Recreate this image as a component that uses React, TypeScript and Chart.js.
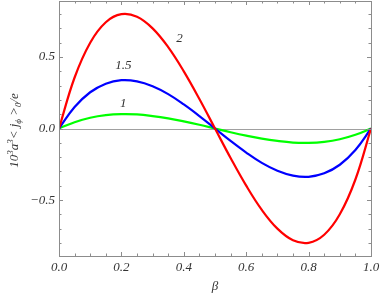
import React, { useEffect, useRef } from "react";
import { Chart, registerables } from "chart.js";
Chart.register(...registerables);

const betas = [0, 0.05, 0.1, 0.15, 0.2, 0.25, 0.3, 0.35, 0.4, 0.45, 0.5, 0.55, 0.6, 0.65, 0.7, 0.75, 0.8, 0.85, 0.9, 0.95, 1];
const green = [0, 0.044, 0.075, 0.093, 0.1, 0.098, 0.087, 0.071, 0.05, 0.026, 0, -0.026, -0.05, -0.071, -0.087, -0.098, -0.1, -0.093, -0.075, -0.044, 0];
const blue = [0, 0.15, 0.253, 0.313, 0.337, 0.329, 0.295, 0.24, 0.168, 0.087, 0, -0.087, -0.168, -0.24, -0.295, -0.329, -0.337, -0.313, -0.253, -0.15, 0];
const red = [0, 0.356, 0.599, 0.742, 0.798, 0.78, 0.699, 0.568, 0.399, 0.206, 0, -0.206, -0.399, -0.568, -0.699, -0.78, -0.798, -0.742, -0.599, -0.356, 0];

const curveLabels = ["2", "1.5", "1"];
const curveLabelX = [0.386, 0.206, 0.206];
const curveLabelY = [0.63, 0.44, 0.175];

const xMajor = [0, 0.2, 0.4, 0.6, 0.8, 1];
const xMinor = [0.05, 0.1, 0.15, 0.25, 0.3, 0.35, 0.45, 0.5, 0.55, 0.65, 0.7, 0.75, 0.85, 0.9, 0.95];
const yMajor = [-0.5, 0, 0.5];
const yMinor = [-0.8, -0.7, -0.6, -0.4, -0.3, -0.2, -0.1, 0.1, 0.2, 0.3, 0.4, 0.6, 0.7, 0.8];

const xTitle = "β";
// [text, kind] kind: n = normal, u = superscript, d = subscript
const yTitleParts: [string, string][] = [
  ["10", "n"], ["3", "u"], ["a", "n"], ["3", "u"], ["< j", "n"], ["ϕ", "d"], [" >", "n"], ["0", "d"], ["/e", "n"],
];

const FONT = "'Liberation Serif', 'Times New Roman', serif";
const TXT = "#333333";

const framePlugin = {
  id: "framePlugin",
  beforeDatasetsDraw(chart: any) {
    const { ctx, chartArea: a, scales } = chart;
    const y0 = scales.y.getPixelForValue(0);
    ctx.save();
    ctx.strokeStyle = "#a0a0a0";
    ctx.lineWidth = 1;
    ctx.beginPath();
    ctx.moveTo(a.left, Math.round(y0) + 0.5);
    ctx.lineTo(a.right, Math.round(y0) + 0.5);
    ctx.stroke();
    ctx.restore();
  },
  afterDraw(chart: any) {
    const { ctx, chartArea: a, scales } = chart;
    ctx.save();
    ctx.strokeStyle = "#8c8c8c";
    ctx.lineWidth = 1;
    ctx.strokeRect(Math.round(a.left) + 0.5, Math.round(a.top) + 0.5, Math.round(a.right - a.left), Math.round(a.bottom - a.top));
    ctx.beginPath();
    const xt = (v: number, len: number) => {
      const px = Math.round(scales.x.getPixelForValue(v)) + 0.5;
      ctx.moveTo(px, a.bottom);
      ctx.lineTo(px, a.bottom - len);
      ctx.moveTo(px, a.top);
      ctx.lineTo(px, a.top + len);
    };
    const yt = (v: number, len: number) => {
      const py = Math.round(scales.y.getPixelForValue(v)) + 0.5;
      ctx.moveTo(a.left, py);
      ctx.lineTo(a.left + len, py);
      ctx.moveTo(a.right, py);
      ctx.lineTo(a.right - len, py);
    };
    xMajor.forEach((v) => xt(v, 4));
    xMinor.forEach((v) => xt(v, 2.5));
    yMajor.forEach((v) => yt(v, 4));
    yMinor.forEach((v) => yt(v, 2.5));
    ctx.stroke();

    ctx.fillStyle = TXT;
    ctx.font = `italic 13px ${FONT}`;
    ctx.textAlign = "center";
    ctx.textBaseline = "middle";
    xMajor.forEach((v) => ctx.fillText(v.toFixed(1), scales.x.getPixelForValue(v), a.bottom + 12));
    ctx.textAlign = "right";
    yMajor.forEach((v) => {
      const s = v < 0 ? "−" + Math.abs(v).toFixed(1) : v.toFixed(1);
      ctx.fillText(s, a.left - 4, scales.y.getPixelForValue(v));
    });
    ctx.textAlign = "center";
    ctx.fillText(xTitle, (a.left + a.right) / 2, a.bottom + 31);

    const big = `italic 13px ${FONT}`;
    const small = `italic 9px ${FONT}`;
    let total = 0;
    const widths = yTitleParts.map(([t, k]) => {
      ctx.font = k === "n" ? big : small;
      const w = ctx.measureText(t).width;
      total += w;
      return w;
    });
    ctx.save();
    ctx.translate(14, (a.top + a.bottom) / 2 + 2);
    ctx.rotate(-Math.PI / 2);
    ctx.textAlign = "left";
    ctx.textBaseline = "alphabetic";
    let xPos = -total / 2;
    yTitleParts.forEach(([t, k], i) => {
      ctx.font = k === "n" ? big : small;
      const dy = k === "u" ? -5 : k === "d" ? 3 : 0;
      ctx.fillText(t, xPos, 4 + dy);
      xPos += widths[i];
    });
    ctx.restore();

    ctx.font = `italic 13px ${FONT}`;
    ctx.textAlign = "center";
    ctx.textBaseline = "middle";
    curveLabels.forEach((t, i) => {
      ctx.fillText(t, scales.x.getPixelForValue(curveLabelX[i]), scales.y.getPixelForValue(curveLabelY[i]));
    });
    ctx.restore();
  },
};

export default function App() {
  const ref = useRef<HTMLCanvasElement>(null);
  useEffect(() => {
    document.body.style.margin = "0";
    let chart: Chart | null = null;
    let cancelled = false;
    const ds = (label: string, data: number[], color: string) => ({
      label,
      data: betas.map((b, i) => ({ x: b, y: data[i] })),
      borderColor: color,
      backgroundColor: color,
      borderWidth: 2.2,
      pointRadius: 0,
      tension: 0.4,
      fill: false,
    });
    const make = () => {
      if (cancelled || !ref.current) return;
      chart = new Chart(ref.current, {
        type: "line",
        data: {
          datasets: [ds("2", red, "#ff0000"), ds("1.5", blue, "#0000ff"), ds("1", green, "#00ff00")],
        },
        options: {
          animation: false,
          responsive: false,
          layout: { padding: { top: 1, right: 11, left: 0, bottom: 0 } },
          plugins: { legend: { display: false }, tooltip: { enabled: false } },
          scales: {
            x: {
              type: "linear",
              min: 0,
              max: 1,
              grid: { display: false, drawTicks: false },
              border: { display: false },
              ticks: { display: false },
              afterFit: (s: any) => {
                s.height = 44;
                s.paddingLeft = 0;
                s.paddingRight = 0;
              },
            },
            y: {
              type: "linear",
              min: -0.89,
              max: 0.89,
              grid: { display: false, drawTicks: false },
              border: { display: false },
              ticks: { display: false },
              afterFit: (s: any) => {
                s.width = 59;
                s.paddingTop = 0;
                s.paddingBottom = 0;
              },
            },
          },
        },
        plugins: [framePlugin],
      });
    };
    const f: any = (document as any).fonts;
    if (f && f.load) {
      Promise.all([f.load(`italic 13px 'Liberation Serif'`), f.load(`13px 'Liberation Serif'`)])
        .catch(() => {})
        .then(make);
    } else make();
    return () => {
      cancelled = true;
      if (chart) chart.destroy();
    };
  }, []);
  return <canvas ref={ref} width={382} height={300} style={{ display: "block" }} />;
}
